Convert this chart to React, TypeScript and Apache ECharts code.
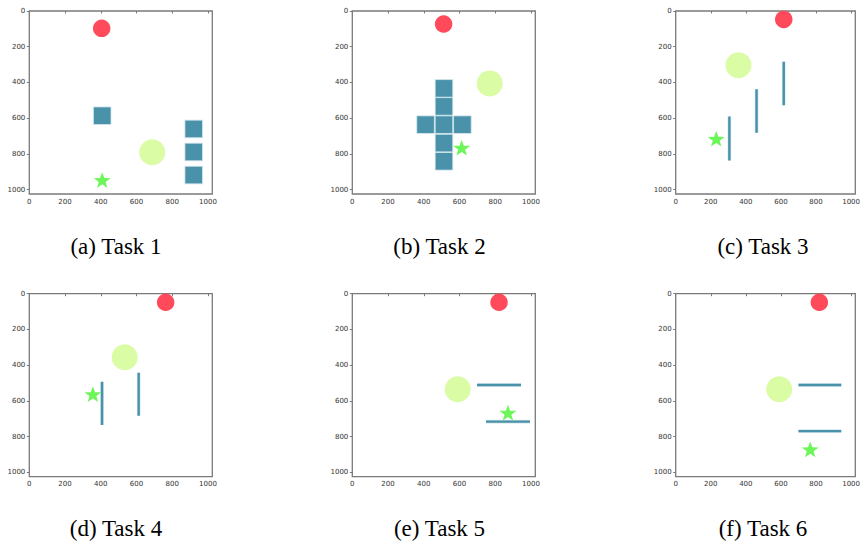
import React, { useEffect, useRef } from "react";
import * as echarts from "echarts";

// ---- data, coordinates in image units, y downward ----
const captions = ["(a) Task 1", "(b) Task 2", "(c) Task 3", "(d) Task 4", "(e) Task 5", "(f) Task 6"];
const tickValues = [0, 200, 400, 600, 800, 1000];

const task1Red = [[405, 97]];
const task1Yellow = [[688, 791]];
const task1Squares = [[408, 586], [920, 660], [920, 789], [920, 918]];
const task1Star = [[408, 946]];
const task1Lines: number[][][] = [];

const task2Red = [[511, 73]];
const task2Yellow = [[769, 405]];
const task2Squares = [[513, 433], [513, 534], [410, 636], [513, 636], [616, 636], [513, 739], [513, 841]];
const task2Star = [[612, 765]];
const task2Lines: number[][][] = [];

const task3Red = [[616, 47]];
const task3Yellow = [[358, 304]];
const task3Squares: number[][] = [];
const task3Star = [[231, 715]];
const task3Lines = [
  [[306, 591], [306, 836]],
  [[461, 438], [461, 681]],
  [[616, 284], [616, 528]],
];

const task4Red = [[763, 48]];
const task4Yellow = [[534, 356]];
const task4Squares: number[][] = [];
const task4Star = [[356, 562]];
const task4Lines = [
  [[407, 493], [407, 735]],
  [[612, 442], [612, 683]],
];

const task5Red = [[821, 48]];
const task5Yellow = [[590, 535]];
const task5Squares: number[][] = [];
const task5Star = [[871, 666]];
const task5Lines = [
  [[698, 511], [944, 511]],
  [[748, 716], [994, 716]],
];

const task6Red = [[819, 48]];
const task6Yellow = [[590, 535]];
const task6Squares: number[][] = [];
const task6Star = [[767, 871]];
const task6Lines = [
  [[700, 511], [944, 511]],
  [[700, 769], [944, 769]],
];

const tasks = [
  { red: task1Red, yellow: task1Yellow, squares: task1Squares, star: task1Star, lines: task1Lines },
  { red: task2Red, yellow: task2Yellow, squares: task2Squares, star: task2Star, lines: task2Lines },
  { red: task3Red, yellow: task3Yellow, squares: task3Squares, star: task3Star, lines: task3Lines },
  { red: task4Red, yellow: task4Yellow, squares: task4Squares, star: task4Star, lines: task4Lines },
  { red: task5Red, yellow: task5Yellow, squares: task5Squares, star: task5Star, lines: task5Lines },
  { red: task6Red, yellow: task6Yellow, squares: task6Squares, star: task6Star, lines: task6Lines },
];

// ---- styles ----
const RED = "#ff4a5b";
const YELLOW = "#dafca4";
const TEAL = "#4a91aa";
const GREEN = "#6cf65a";
const FRAME = "#7a7a7a";
const STAR =
  "path://M50 0 L61.8 33.8 L97.55 34.55 L69.1 56.3 L79.39 90.45 L50 70 L20.61 90.45 L30.9 56.3 L2.45 34.55 L38.2 33.8 Z";

const colLeft = [29.3, 352.3, 675.7];
const rowTop = [11, 293.7];
const SIZE = 183;
const capX = [116, 439.5, 763];
const capY = [246, 528];

export default function App() {
  const ref = useRef<HTMLDivElement>(null);
  useEffect(() => {
    document.body.style.margin = "0";
    if (!ref.current) return;
    const chart = echarts.init(ref.current, undefined, { renderer: "svg" });

    const grids: any[] = [];
    const xAxes: any[] = [];
    const yAxes: any[] = [];
    const series: any[] = [];
    const graphics: any[] = [];

    tasks.forEach((t, i) => {
      const col = i % 3;
      const row = Math.floor(i / 3);
      grids.push({
        left: colLeft[col],
        top: rowTop[row],
        width: SIZE,
        height: SIZE,
        show: true,
        borderColor: FRAME,
        borderWidth: 1.3,
        backgroundColor: "#fff",
      });
      const axisCommon = {
        type: "value",
        gridIndex: i,
        min: 0,
        max: 1024,
        splitLine: { show: false },
        axisLine: { show: false },
        axisTick: {
          show: true,
          length: 2.5,
          customValues: tickValues,
          lineStyle: { color: FRAME, width: 1 },
        },
        axisLabel: {
          customValues: tickValues,
          formatter: (v: number) => String(v),
          fontSize: 7,
          color: "#333",
          fontFamily: "DejaVu Sans",
          margin: 4,
        },
      };
      xAxes.push({ ...axisCommon, position: "bottom" });
      yAxes.push({ ...axisCommon, position: "left", inverse: true });

      t.lines.forEach((ln) => {
        series.push({
          type: "line",
          xAxisIndex: i,
          yAxisIndex: i,
          data: ln,
          symbol: "none",
          silent: true,
          lineStyle: { color: "#cfe4eb", width: 3.6, cap: "butt" },
          z: 2,
        });
        series.push({
          type: "line",
          xAxisIndex: i,
          yAxisIndex: i,
          data: ln,
          symbol: "none",
          silent: true,
          lineStyle: { color: TEAL, width: 2.4, cap: "butt" },
          z: 3,
        });
      });
      if (t.squares.length) {
        series.push({
          type: "scatter",
          xAxisIndex: i,
          yAxisIndex: i,
          data: t.squares,
          symbol: "rect",
          symbolSize: 17.6,
          itemStyle: { color: TEAL, borderColor: "#d4e7ed", borderWidth: 0.8, opacity: 1 },
          z: 2,
        });
      }
      series.push({
        type: "scatter",
        xAxisIndex: i,
        yAxisIndex: i,
        data: t.yellow,
        symbol: "circle",
        symbolSize: 26,
        itemStyle: { color: YELLOW, opacity: 1 },
        z: 4,
      });
      series.push({
        type: "scatter",
        xAxisIndex: i,
        yAxisIndex: i,
        data: t.red,
        symbol: "circle",
        symbolSize: 17.5,
        itemStyle: { color: RED, opacity: 1 },
        z: 4,
      });
      series.push({
        type: "scatter",
        xAxisIndex: i,
        yAxisIndex: i,
        data: t.star,
        symbol: STAR,
        symbolKeepAspect: true,
        symbolSize: [17, 16.5],
        itemStyle: { color: GREEN, opacity: 1 },
        z: 5,
      });

      graphics.push({
        type: "text",
        x: capX[col],
        y: capY[row],
        style: {
          text: captions[i],
          font: '23px "Liberation Serif", "Times New Roman", serif',
          fill: "#000",
          textAlign: "center",
          textVerticalAlign: "middle",
        },
      });
    });

    chart.setOption({
      animation: false,
      backgroundColor: "#fff",
      grid: grids,
      xAxis: xAxes,
      yAxis: yAxes,
      series,
      graphic: graphics,
    });
    return () => chart.dispose();
  }, []);
  return <div ref={ref} style={{ width: 863, height: 541 }} />;
}
